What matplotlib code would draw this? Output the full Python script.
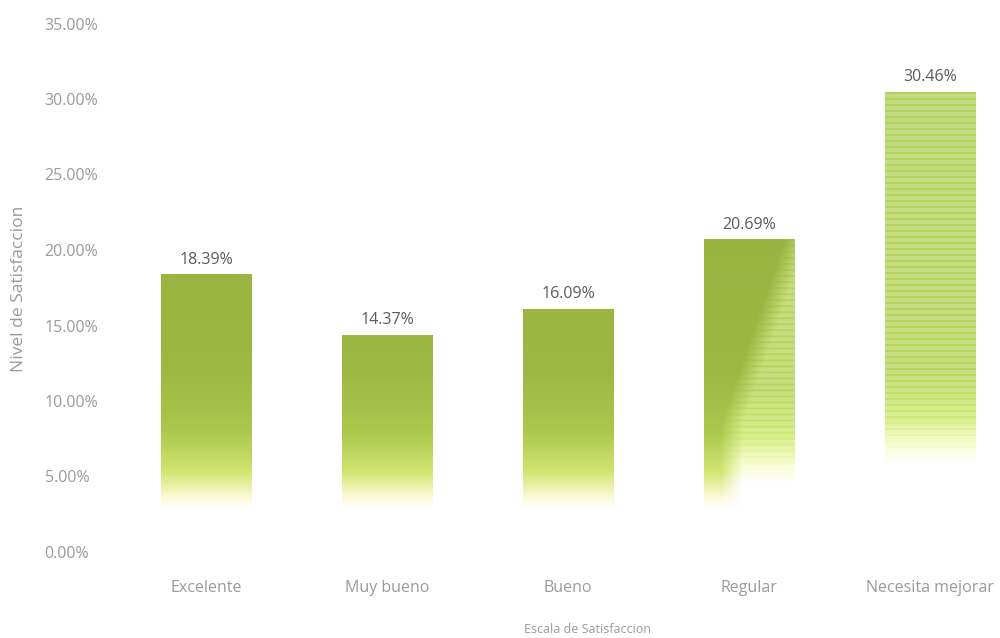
import matplotlib
matplotlib.use("Agg")

import matplotlib.pyplot as plt
import numpy as np

# survey results (% of respondents)
categories = ["Excelente", "Muy bueno", "Bueno", "Regular", "Necesita mejorar"]
values = [18.39, 14.37, 16.09, 20.69, 30.46]
value_labels = ["18.39%", "14.37%", "16.09%", "20.69%", "30.46%"]
y_ticks = [0, 5, 10, 15, 20, 25, 30, 35]
y_tick_labels = ["0.00%", "5.00%", "10.00%", "15.00%", "20.00%", "25.00%", "30.00%", "35.00%"]
# "solid" olive fill, "light" scan-lined fill, "split" blends the two
fill_styles = ["solid", "solid", "solid", "split", "light"]

BAR_W = 0.5
PX_PER_UNIT = 15.1
FONT = "Open Sans"

# colour stops over bar height (data units) for the two fill styles
solid_h = [0.0, 2.9, 3.6, 5.3, 8.0, 12.0, 40.0]
solid_c = np.array([
    (1.00, 1.00, 1.00),
    (1.00, 1.00, 1.00),
    (0.99, 0.98, 0.84),
    (0.82, 0.90, 0.44),
    (0.68, 0.78, 0.30),
    (0.62, 0.72, 0.26),
    (0.57, 0.67, 0.24),
])
light_h = np.array([0.0, 5.9, 7.2, 9.0, 12.0, 40.0])
light_c = np.array([
    (1.00, 1.00, 1.00),
    (1.00, 1.00, 1.00),
    (0.97, 0.99, 0.80),
    (0.84, 0.93, 0.54),
    (0.77, 0.87, 0.48),
    (0.74, 0.85, 0.48),
])


def ramp(heights, stops_h, stops_c):
    return np.stack([np.interp(heights, stops_h, stops_c[:, k]) for k in range(3)], axis=-1)


def bar_image(value, style):
    rows = max(2, int(round(value * PX_PER_UNIT)))
    cols = 90
    h = np.linspace(value, 0, rows)
    solid = ramp(h, solid_h, solid_c)[:, None, :].repeat(cols, axis=1)
    # the split bar fades out lower than the fully light one
    shift = 1.3 if style == "split" else 0.0
    light = ramp(h, light_h - shift, light_c)[:, None, :]
    # thin darker scan lines; scaling the distance from white keeps blank areas blank
    factor = np.where((np.arange(rows) % 6) < 2, 1.22, 0.95)[:, None, None]
    light = np.clip(1 - (1 - light) * factor, 0, 1).repeat(cols, axis=1)
    if style == "solid":
        return solid
    if style == "light":
        return light
    xf = np.linspace(0, 1, cols)[None, :]
    edge = np.maximum(0.61 + 0.058 * (h[:, None] - 13.7), 0.3)
    w = np.clip((xf - edge) / 0.25 + 0.5, 0, 1)[:, :, None]
    return solid * (1 - w) + light * w


fig = plt.figure(figsize=(10, 6.38), dpi=100)
ax = fig.add_axes([0.1155, 86 / 638, 0.905, 528.5 / 638])

x = np.arange(len(categories))
for xi, v, lab, st in zip(x, values, value_labels, fill_styles):
    ax.imshow(bar_image(v, st), extent=(xi - BAR_W / 2, xi + BAR_W / 2, 0, v),
              aspect="auto", interpolation="bilinear", zorder=2)
    ax.text(xi, v + 0.45, lab, ha="center", va="bottom", fontsize=11.5,
            color="#5c5c5c", family=FONT)

ax.set_xlim(-0.5, len(categories) - 0.5)
ax.set_ylim(0, 35)
ax.set_xticks(x, labels=categories)
ax.set_yticks(y_ticks, labels=y_tick_labels)
ax.tick_params(length=0, colors="#9a9a9a", labelsize=11.5)
ax.tick_params(axis="x", pad=20)
ax.tick_params(axis="y", pad=51)
for t in ax.get_yticklabels():
    t.set_horizontalalignment("left")
for t in ax.get_xticklabels() + ax.get_yticklabels():
    t.set_family(FONT)
for s in ax.spines.values():
    s.set_visible(False)

fig.text(0.019, 0.547, "Nivel de Satisfaccion", rotation=90, ha="center", va="center",
         fontsize=12.5, color="#9a9a9a", family=FONT)
fig.text(0.587, 0.014, "Escala de Satisfaccion", ha="center", va="center",
         fontsize=9, color="#9a9a9a", family=FONT)

fig.savefig("out.png", dpi=100, facecolor="white")
plt.close(fig)
